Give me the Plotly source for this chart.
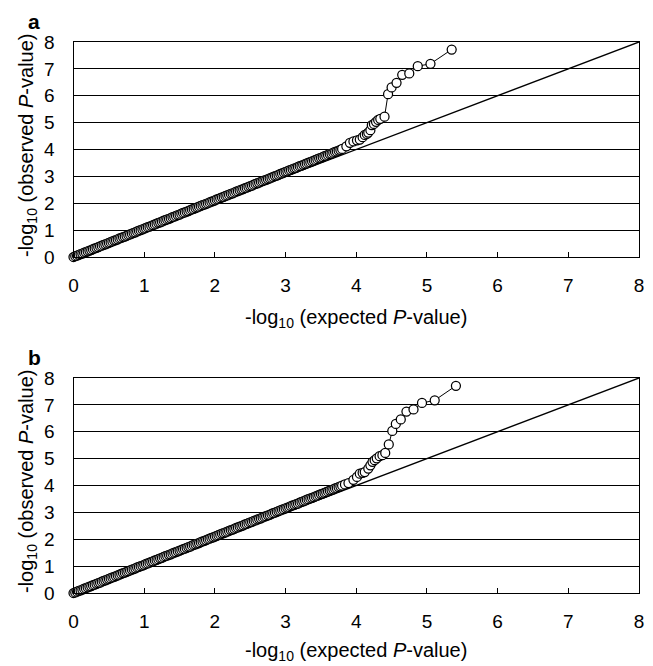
import plotly.graph_objects as go

W, H = 653, 666

# ---------- data ----------
# dense body of the QQ plot (expected -log10 P, same grid for both panels)
exp_body = [
    0.000, 0.025, 0.050, 0.075, 0.100, 0.125, 0.150, 0.175,
    0.200, 0.225, 0.250, 0.275, 0.300, 0.325, 0.350, 0.375,
    0.400, 0.425, 0.450, 0.475, 0.500, 0.525, 0.550, 0.575,
    0.600, 0.625, 0.650, 0.675, 0.700, 0.725, 0.750, 0.775,
    0.800, 0.825, 0.850, 0.875, 0.900, 0.925, 0.950, 0.975,
    1.000, 1.025, 1.050, 1.075, 1.100, 1.125, 1.150, 1.175,
    1.200, 1.225, 1.250, 1.275, 1.300, 1.325, 1.350, 1.375,
    1.400, 1.425, 1.450, 1.475, 1.500, 1.525, 1.550, 1.575,
    1.600, 1.625, 1.650, 1.675, 1.700, 1.725, 1.750, 1.775,
    1.800, 1.825, 1.850, 1.875, 1.900, 1.925, 1.950, 1.975,
    2.000, 2.025, 2.050, 2.075, 2.100, 2.125, 2.150, 2.175,
    2.200, 2.225, 2.250, 2.275, 2.300, 2.325, 2.350, 2.375,
    2.400, 2.425, 2.450, 2.475, 2.500, 2.525, 2.550, 2.575,
    2.600, 2.625, 2.650, 2.675, 2.700, 2.725, 2.750, 2.775,
    2.800, 2.825, 2.850, 2.875, 2.900, 2.925, 2.950, 2.975,
    3.000, 3.025, 3.050, 3.075, 3.100, 3.125, 3.150, 3.175,
    3.200, 3.225, 3.250, 3.275, 3.300, 3.325, 3.350, 3.375,
    3.400, 3.425, 3.450, 3.475, 3.500, 3.525, 3.550, 3.575,
    3.600, 3.625, 3.650, 3.675, 3.700, 3.725, 3.750, 3.775,
    3.800,
]

# panel a: observed -log10 P for the body
obs_body_a = [
    0.00, 0.03, 0.05, 0.08, 0.11, 0.13, 0.16, 0.18,
    0.21, 0.24, 0.26, 0.29, 0.32, 0.34, 0.37, 0.40,
    0.42, 0.45, 0.47, 0.50, 0.53, 0.55, 0.58, 0.61,
    0.63, 0.66, 0.69, 0.71, 0.74, 0.76, 0.79, 0.82,
    0.84, 0.87, 0.90, 0.92, 0.95, 0.98, 1.00, 1.03,
    1.06, 1.08, 1.11, 1.13, 1.16, 1.19, 1.21, 1.24,
    1.27, 1.29, 1.32, 1.35, 1.37, 1.40, 1.42, 1.45,
    1.48, 1.50, 1.53, 1.56, 1.58, 1.61, 1.64, 1.66,
    1.69, 1.71, 1.74, 1.77, 1.79, 1.82, 1.85, 1.87,
    1.90, 1.93, 1.95, 1.98, 2.00, 2.03, 2.06, 2.08,
    2.11, 2.14, 2.16, 2.19, 2.22, 2.24, 2.27, 2.29,
    2.32, 2.35, 2.37, 2.40, 2.43, 2.45, 2.48, 2.51,
    2.53, 2.56, 2.58, 2.61, 2.64, 2.66, 2.69, 2.72,
    2.74, 2.77, 2.80, 2.82, 2.85, 2.87, 2.90, 2.93,
    2.95, 2.98, 3.01, 3.03, 3.06, 3.09, 3.11, 3.14,
    3.17, 3.19, 3.22, 3.24, 3.27, 3.30, 3.32, 3.35,
    3.38, 3.40, 3.43, 3.46, 3.48, 3.51, 3.53, 3.56,
    3.59, 3.61, 3.64, 3.67, 3.69, 3.72, 3.75, 3.77,
    3.80, 3.83, 3.85, 3.88, 3.91, 3.93, 3.96, 3.99,
    4.02,
]
# panel a: upper tail (individual points)
exp_tail_a = [3.86, 3.91, 3.96, 4.01, 4.05, 4.09, 4.12, 4.15, 4.17, 4.20,
              4.22, 4.25, 4.28, 4.31, 4.34, 4.40, 4.45, 4.50, 4.57, 4.65,
              4.75, 4.87, 5.05, 5.35]
obs_tail_a = [4.12, 4.25, 4.30, 4.34, 4.37, 4.46, 4.54, 4.58, 4.63, 4.72,
              4.91, 4.95, 5.03, 5.10, 5.14, 5.22, 6.06, 6.31, 6.48, 6.78,
              6.83, 7.10, 7.19, 7.72]

# panel b: observed -log10 P for the body
obs_body_b = [
    0.00, 0.02, 0.05, 0.08, 0.10, 0.13, 0.16, 0.18,
    0.21, 0.24, 0.26, 0.29, 0.31, 0.34, 0.37, 0.39,
    0.42, 0.45, 0.47, 0.50, 0.53, 0.55, 0.58, 0.60,
    0.63, 0.66, 0.68, 0.71, 0.74, 0.76, 0.79, 0.81,
    0.84, 0.87, 0.89, 0.92, 0.95, 0.97, 1.00, 1.02,
    1.05, 1.08, 1.10, 1.13, 1.16, 1.18, 1.21, 1.23,
    1.26, 1.29, 1.31, 1.34, 1.37, 1.39, 1.42, 1.44,
    1.47, 1.50, 1.52, 1.55, 1.58, 1.60, 1.63, 1.65,
    1.68, 1.71, 1.73, 1.76, 1.79, 1.81, 1.84, 1.86,
    1.89, 1.92, 1.94, 1.97, 2.00, 2.02, 2.05, 2.07,
    2.10, 2.13, 2.15, 2.18, 2.21, 2.23, 2.26, 2.28,
    2.31, 2.34, 2.36, 2.39, 2.42, 2.44, 2.47, 2.49,
    2.52, 2.55, 2.57, 2.60, 2.63, 2.65, 2.68, 2.70,
    2.73, 2.76, 2.78, 2.81, 2.84, 2.86, 2.89, 2.91,
    2.94, 2.97, 2.99, 3.02, 3.05, 3.07, 3.10, 3.12,
    3.15, 3.18, 3.20, 3.23, 3.26, 3.28, 3.31, 3.33,
    3.36, 3.39, 3.41, 3.44, 3.47, 3.49, 3.52, 3.54,
    3.57, 3.60, 3.62, 3.65, 3.68, 3.70, 3.73, 3.75,
    3.78, 3.81, 3.83, 3.86, 3.89, 3.91, 3.94, 3.97,
    4.00,
]
# panel b: upper tail
exp_tail_b = [3.84, 3.89, 3.96, 4.01, 4.05, 4.09, 4.12, 4.17, 4.20, 4.23,
              4.26, 4.29, 4.33, 4.37, 4.41, 4.46, 4.51, 4.56, 4.63, 4.71,
              4.81, 4.93, 5.11, 5.41]
obs_tail_b = [4.04, 4.09, 4.21, 4.32, 4.44, 4.47, 4.50, 4.63, 4.75, 4.88,
              4.94, 5.01, 5.09, 5.13, 5.21, 5.53, 6.03, 6.29, 6.46, 6.75,
              6.83, 7.07, 7.17, 7.71]

ticks = [0, 1, 2, 3, 4, 5, 6, 7, 8]
diag = [0, 8]
panel_labels = ["a", "b"]
x_title = "-log<sub>10</sub> (expected <i>P</i>-value)"
y_title = "-log<sub>10</sub> (observed <i>P</i>-value)"

# ---------- styling / layout ----------
FONT = "Liberation Sans, Arial, sans-serif"
X0, X1 = 73.5, 639            # plot area, px
PANELS = [(42, 257), (378, 593)]
YT_CENTER = [146, 482]        # y title vertical centre, px
XT_CENTER = [319, 651]        # x title vertical centre, px
LAB_CENTER = [21, 357]        # panel letter vertical centre, px


def py(p):
    return 1 - p / H


fig = go.Figure()
series = [(exp_body + exp_tail_a, obs_body_a + obs_tail_a),
          (exp_body + exp_tail_b, obs_body_b + obs_tail_b)]
for i, (ex, ob) in enumerate(series):
    xa = "x" if i == 0 else "x2"
    ya = "y" if i == 0 else "y2"
    fig.add_trace(go.Scatter(x=diag, y=diag, mode="lines",
                             line=dict(color="black", width=1.4),
                             xaxis=xa, yaxis=ya, showlegend=False, hoverinfo="skip"))
    fig.add_trace(go.Scatter(x=ex, y=ob, mode="lines+markers",
                             line=dict(color="black", width=1),
                             marker=dict(symbol="circle", size=9, color="white",
                                         line=dict(color="black", width=1.25)),
                             cliponaxis=False,
                             xaxis=xa, yaxis=ya, showlegend=False))

tickfont = dict(family=FONT, size=19, color="black")
xcommon = dict(range=[0, 8], tickvals=ticks, ticks="inside", ticklen=5, tickcolor="black",
               tickwidth=1, showline=True, linecolor="black", linewidth=1, mirror=True,
               showgrid=False, zeroline=False, tickfont=tickfont,
               ticklabelstandoff=11, fixedrange=True, automargin=False)
ycommon = dict(range=[0, 8], tickvals=ticks, ticks="", showline=True, linecolor="black",
               linewidth=1, mirror=True, showgrid=True, gridcolor="black", gridwidth=1,
               zeroline=False, tickfont=tickfont,
               ticklabelstandoff=14, fixedrange=True, automargin=False)

fig.update_layout(
    width=W, height=H,
    margin=dict(l=0, r=0, t=0, b=0),
    paper_bgcolor="white", plot_bgcolor="white",
    xaxis=dict(domain=[X0 / W, X1 / W], anchor="y", **xcommon),
    yaxis=dict(domain=[py(PANELS[0][1]), py(PANELS[0][0])], anchor="x", **ycommon),
    xaxis2=dict(domain=[X0 / W, X1 / W], anchor="y2", **xcommon),
    yaxis2=dict(domain=[py(PANELS[1][1]), py(PANELS[1][0])], anchor="x2", **ycommon),
    showlegend=False,
)

ann = []
for i, lab in enumerate(panel_labels):
    ann.append(dict(text="<b>" + lab + "</b>", x=34 / W, y=py(LAB_CENTER[i]), xref="paper",
                    yref="paper", showarrow=False,
                    font=dict(family=FONT, size=21, color="black"),
                    xanchor="center", yanchor="middle"))
    ann.append(dict(text=x_title, x=((X0 + X1) / 2) / W, y=py(XT_CENTER[i]), xref="paper",
                    yref="paper", showarrow=False,
                    font=dict(family=FONT, size=20, color="black"),
                    xanchor="center", yanchor="middle"))
    ann.append(dict(text=y_title, x=27 / W, y=py(YT_CENTER[i]), xref="paper", yref="paper",
                    showarrow=False, textangle=-90,
                    font=dict(family=FONT, size=20, color="black"),
                    xanchor="center", yanchor="middle"))
fig.update_layout(annotations=ann)

# remove the browser's default 8px page margin so the figure sits at (0, 0)
page_fix = ("document.body.style.margin='0';document.body.style.padding='0';"
            "document.body.style.overflow='hidden';")
fig.write_html("out.html", post_script=page_fix,
               config={"displayModeBar": False, "staticPlot": True})
